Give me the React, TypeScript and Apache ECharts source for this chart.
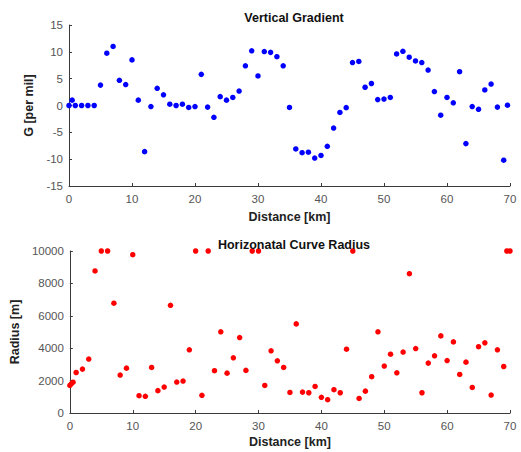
import React, { useEffect, useRef } from "react";
import * as echarts from "echarts";

const gradientKm = [0, 0.5, 1, 2, 3, 4, 5, 6, 7, 8, 9, 10, 11, 12, 13, 14, 15, 16, 17, 18, 19, 20, 21, 22, 23, 24, 25, 26, 27, 28, 29, 30, 31, 32, 33, 34, 35, 36, 37, 38, 39, 40, 41, 42, 43, 44, 45, 46, 47, 48, 49, 50, 51, 52, 53, 54, 55, 56, 57, 58, 59, 60, 61, 62, 63, 64, 65, 66, 67, 68, 69, 69.6];
const gradientG = [0, 1.0, 0, 0, 0, 0, 3.8, 9.75, 11.0, 4.7, 3.9, 8.5, 1.0, -8.6, -0.2, 3.2, 2.0, 0.25, 0, 0.25, -0.37, -0.2, 5.8, -0.3, -2.2, 1.65, 1.0, 1.5, 2.7, 7.4, 10.2, 5.5, 10.05, 9.9, 9.1, 7.4, -0.37, -8.1, -8.8, -8.7, -9.8, -9.3, -7.6, -4.2, -1.3, -0.4, 8.0, 8.2, 3.4, 4.1, 1.1, 1.2, 1.5, 9.6, 10.1, 9.0, 8.3, 8.0, 6.6, 2.6, -1.8, 1.5, 0.5, 6.3, -7.1, -0.2, -0.7, 2.9, 4.0, -0.3, -10.2, 0.05];

const radiusKm = [0, 0.25, 0.5, 1, 2, 3, 4, 5, 6, 7, 8, 9, 10, 11, 12, 13, 14, 15, 16, 17, 18, 19, 20, 21, 22, 23, 24, 25, 26, 27, 28, 29, 30, 31, 32, 33, 34, 35, 36, 37, 38, 39, 40, 41, 42, 43, 44, 45, 46, 47, 48, 49, 50, 51, 52, 53, 54, 55, 56, 57, 58, 59, 60, 61, 62, 63, 64, 65, 66, 67, 68, 69, 69.5, 70];
const radiusM = [1700, 1820, 1900, 2500, 2710, 3330, 8770, 10000, 10000, 6780, 2340, 2770, 9770, 1070, 1030, 2810, 1380, 1600, 6650, 1910, 1970, 3900, 10000, 1090, 10000, 2610, 5010, 2460, 3410, 4660, 2630, 10000, 10000, 1700, 3840, 3220, 2810, 1270, 5500, 1290, 1250, 1640, 970, 820, 1440, 1250, 3940, 10000, 900, 1350, 2240, 5010, 2900, 3630, 2480, 3760, 8600, 3980, 1250, 3080, 3530, 4760, 3240, 4390, 2380, 3140, 1580, 4090, 4330, 1110, 3900, 2870, 10000, 10000];

const titles = ["Vertical Gradient", "Horizonatal Curve Radius"];
const xName = "Distance [km]";
const yNames = ["G [per mil]", "Radius [m]"];

const FONT = "'Liberation Sans', Arial, Helvetica, sans-serif";
const AX = "#3a3a3a";
const LBL = "#555555";

export default function App() {
  const ref = useRef<HTMLDivElement>(null);
  useEffect(() => {
    if (!ref.current) return;
    const chart = echarts.init(ref.current, null, { renderer: "svg" });
    const xAxisBase = (gridIndex: number, nameGap: number) => ({
      type: "value",
      gridIndex,
      min: 0,
      max: 70,
      interval: 10,
      name: xName,
      nameLocation: "middle",
      nameGap,
      nameTextStyle: { fontFamily: FONT, fontSize: 12.5, fontWeight: "bold", color: "#222" },
      axisLine: { show: true, onZero: false, lineStyle: { color: AX, width: 1 } },
      axisTick: { show: true, inside: true, length: 3, lineStyle: { color: AX } },
      axisLabel: { margin: 7, fontFamily: FONT, fontSize: 11.5, color: LBL },
      splitLine: { show: false },
    });
    const yAxisBase = (gridIndex: number, min: number, max: number, interval: number, name: string, nameGap: number) => ({
      type: "value",
      gridIndex,
      min,
      max,
      interval,
      name,
      nameLocation: "middle",
      nameGap,
      nameTextStyle: { fontFamily: FONT, fontSize: 12.5, fontWeight: "bold", color: "#222" },
      axisLine: { show: true, lineStyle: { color: AX, width: 1 } },
      axisTick: { show: true, inside: true, length: 3, lineStyle: { color: AX } },
      axisLabel: { margin: 6, fontFamily: FONT, fontSize: 11.5, color: LBL, formatter: (v: number) => String(v) },
      splitLine: { show: false },
    });
    chart.setOption({
      animation: false,
      backgroundColor: "#ffffff",
      title: [
        { text: titles[0], left: 289, top: 6, textAlign: "center", textStyle: { fontFamily: FONT, fontSize: 12.5, fontWeight: "bold", color: "#111" } },
        { text: titles[1], left: 289, top: 233, textAlign: "center", textStyle: { fontFamily: FONT, fontSize: 12.5, fontWeight: "bold", color: "#111" } },
      ],
      grid: [
        { left: 69, top: 25, width: 441, height: 161 },
        { left: 69, top: 251, width: 441, height: 162 },
      ],
      xAxis: [xAxisBase(0, 24), xAxisBase(1, 22)],
      yAxis: [
        yAxisBase(0, -15, 15, 5, yNames[0], 22),
        yAxisBase(1, 0, 10000, 2000, yNames[1], 37),
      ],
      series: [
        {
          type: "scatter",
          xAxisIndex: 0,
          yAxisIndex: 0,
          symbolSize: 5.5,
          clip: false,
          itemStyle: { color: "#0000ff", opacity: 1 },
          data: gradientKm.map((x, i) => [x, gradientG[i]]),
        },
        {
          type: "scatter",
          xAxisIndex: 1,
          yAxisIndex: 1,
          symbolSize: 5.5,
          clip: false,
          itemStyle: { color: "#ff0000", opacity: 1 },
          data: radiusKm.map((x, i) => [x, radiusM[i]]),
        },
      ],
    });
    return () => chart.dispose();
  }, []);
  return (
    <div
      ref={ref}
      style={{ position: "fixed", left: 0, top: 0, width: 521, height: 452, background: "#fff" }}
    />
  );
}
